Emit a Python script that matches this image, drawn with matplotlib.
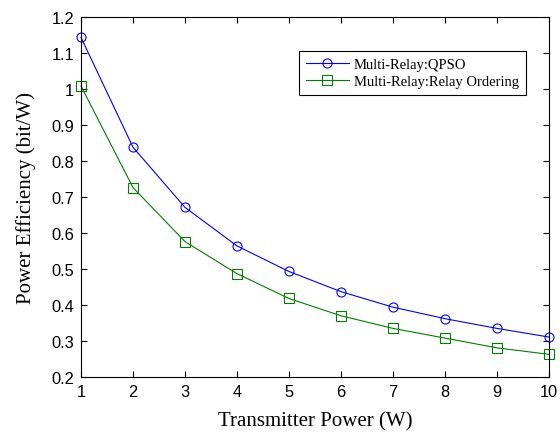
import numpy as np
import matplotlib.pyplot as plt

# 数据
power = [1, 2, 3, 4, 5, 6, 7, 8, 9, 10]
qpso = [1.143, 0.838, 0.671, 0.564, 0.493, 0.437, 0.394, 0.362, 0.335, 0.311]
ordering = [1.008, 0.726, 0.576, 0.487, 0.418, 0.370, 0.335, 0.308, 0.281, 0.263]
xticks = [1, 2, 3, 4, 5, 6, 7, 8, 9, 10]
yticks = [0.2, 0.3, 0.4, 0.5, 0.6, 0.7, 0.8, 0.9, 1.0, 1.1, 1.2]
ytick_labels = ['0.2', '0.3', '0.4', '0.5', '0.6', '0.7', '0.8', '0.9', '1', '1.1', '1.2']

fig = plt.figure(figsize=(5.6, 4.35), dpi=100)
ax = fig.add_axes([0.1446, 0.131, 0.8357, 0.828])

ax.plot(power, qpso, color='#0000ff', lw=0.8, marker='o', ms=6.5, mfc='none', mew=0.8,
        label='Multi-Relay:QPSO')
ax.plot(power, ordering, color='#008000', lw=0.8, marker='s', ms=6.5, mfc='none', mew=0.8,
        label='Multi-Relay:Relay Ordering')

ax.set_xlim(1, 10)
ax.set_ylim(0.2, 1.2)
ax.set_xticks(xticks)
ax.set_yticks(yticks)
ax.set_yticklabels(ytick_labels)
ax.tick_params(direction='in', top=True, right=True, length=4, width=0.8,
               labelsize=11.8, pad=5)
for lab in ax.get_xticklabels() + ax.get_yticklabels():
    lab.set_family('Liberation Sans')
for sp in ax.spines.values():
    sp.set_linewidth(0.8)
for line in ax.get_lines():
    line.set_clip_on(False)

ax.set_xlabel('Transmitter Power (W)', family='Liberation Serif', fontsize=15, labelpad=9)
ax.set_ylabel('Power Efficiency (bit/W)', family='Liberation Serif', fontsize=15, labelpad=11)

leg = ax.legend(loc='upper right', bbox_to_anchor=(0.95, 0.905), fancybox=False,
                edgecolor='black', framealpha=1,
                prop={'family': 'Liberation Serif', 'size': 10.5}, handlelength=2.95,
                borderpad=0.45, labelspacing=0.3, handletextpad=0.35, borderaxespad=0)
leg.get_frame().set_linewidth(0.8)

plt.savefig('out.png', dpi=100)
